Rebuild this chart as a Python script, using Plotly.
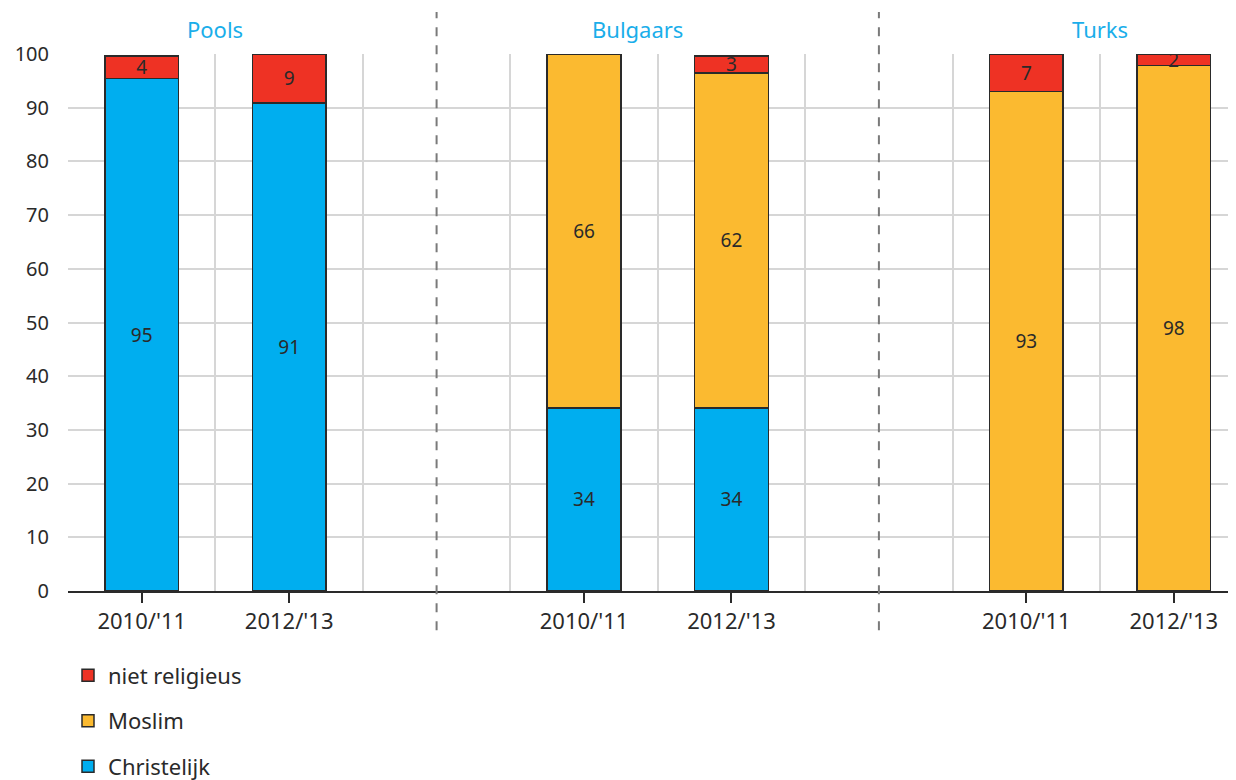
import plotly.graph_objects as go

# slot positions on a numeric x axis (one empty slot between the groups)
groups = ["Pools", "Bulgaars", "Turks"]
periods = ["2010/'11", "2012/'13", "2010/'11", "2012/'13", "2010/'11", "2012/'13"]
xpos = [0.5, 1.5, 3.5, 4.5, 6.5, 7.5]

christelijk = [95.4, 90.9, 34.1, 34.1, None, None]
moslim = [None, None, 65.9, 62.4, 93.0, 97.9]
niet_religieus = [4.2, 9.1, None, 3.1, 7.0, 2.1]

colors = {"Christelijk": "#00AEEF", "Moslim": "#FBBA30", "niet religieus": "#EE3224"}
FONT = "Noto Sans"
INK = "#2a2a2a"

fig = go.Figure()
series = [("Christelijk", christelijk, 3), ("Moslim", moslim, 2), ("niet religieus", niet_religieus, 1)]
for name, vals, rank in series:
    fig.add_trace(go.Bar(
        x=xpos, y=vals, name=name, width=0.5,
        marker=dict(color=colors[name], line=dict(color=INK, width=1.5)),
        text=[f"{v:.0f}" if v else "" for v in vals],
        textposition="inside", insidetextanchor="middle", constraintext="none",
        textangle=0,
        textfont=dict(family=FONT, size=19, color=INK),
        legendgroup=name, legendrank=rank, hoverinfo="skip",
    ))

# group titles
title_x = [1.0, 3.86, 7.0]
for g, gx in zip(groups, title_x):
    fig.add_annotation(x=gx, y=1.047, xref="x", yref="paper", yanchor="middle",
                       text=g, showarrow=False,
                       font=dict(family=FONT, size=22, color="#1AAEEA"))

# dashed group separators
for sx in [2.5, 5.5]:
    fig.add_shape(type="line", x0=sx, x1=sx, xref="x", y0=-0.073, y1=1.078, yref="paper",
                  line=dict(color="#7a7a7a", width=2, dash="dash"))

# page body has an 8px default margin, so the figure is set 8px smaller
fig.update_layout(
    width=1228, height=772,
    margin=dict(l=60, r=0, t=46, b=189, autoexpand=False),
    barmode="stack",
    plot_bgcolor="white", paper_bgcolor="white",
    font=dict(family=FONT, color=INK),
    legend=dict(x=0.0, xanchor="left", y=-0.118, yanchor="top", traceorder="grouped",
                font=dict(family=FONT, size=22, color=INK), tracegroupgap=14),
    xaxis=dict(range=[0, 7.922], tickvals=xpos, ticktext=periods, showgrid=False,
               ticks="outside", ticklen=10, tickwidth=2, tickcolor=INK,
               tickfont=dict(family=FONT, size=22, color=INK),
               showline=True, linecolor=INK, linewidth=2, zeroline=False,
               minor=dict(tickvals=list(range(8)), showgrid=True, gridcolor="#d6d6d6",
                          gridwidth=2, ticks="")),
    yaxis=dict(range=[0, 100], tickvals=list(range(0, 101, 10)), showgrid=True,
               gridcolor="#d6d6d6", gridwidth=2, zeroline=False, showline=False,
               ticks="", ticklabelstandoff=18,
               tickfont=dict(family=FONT, size=20, color=INK)),
)

fig.write_html("out.html")
